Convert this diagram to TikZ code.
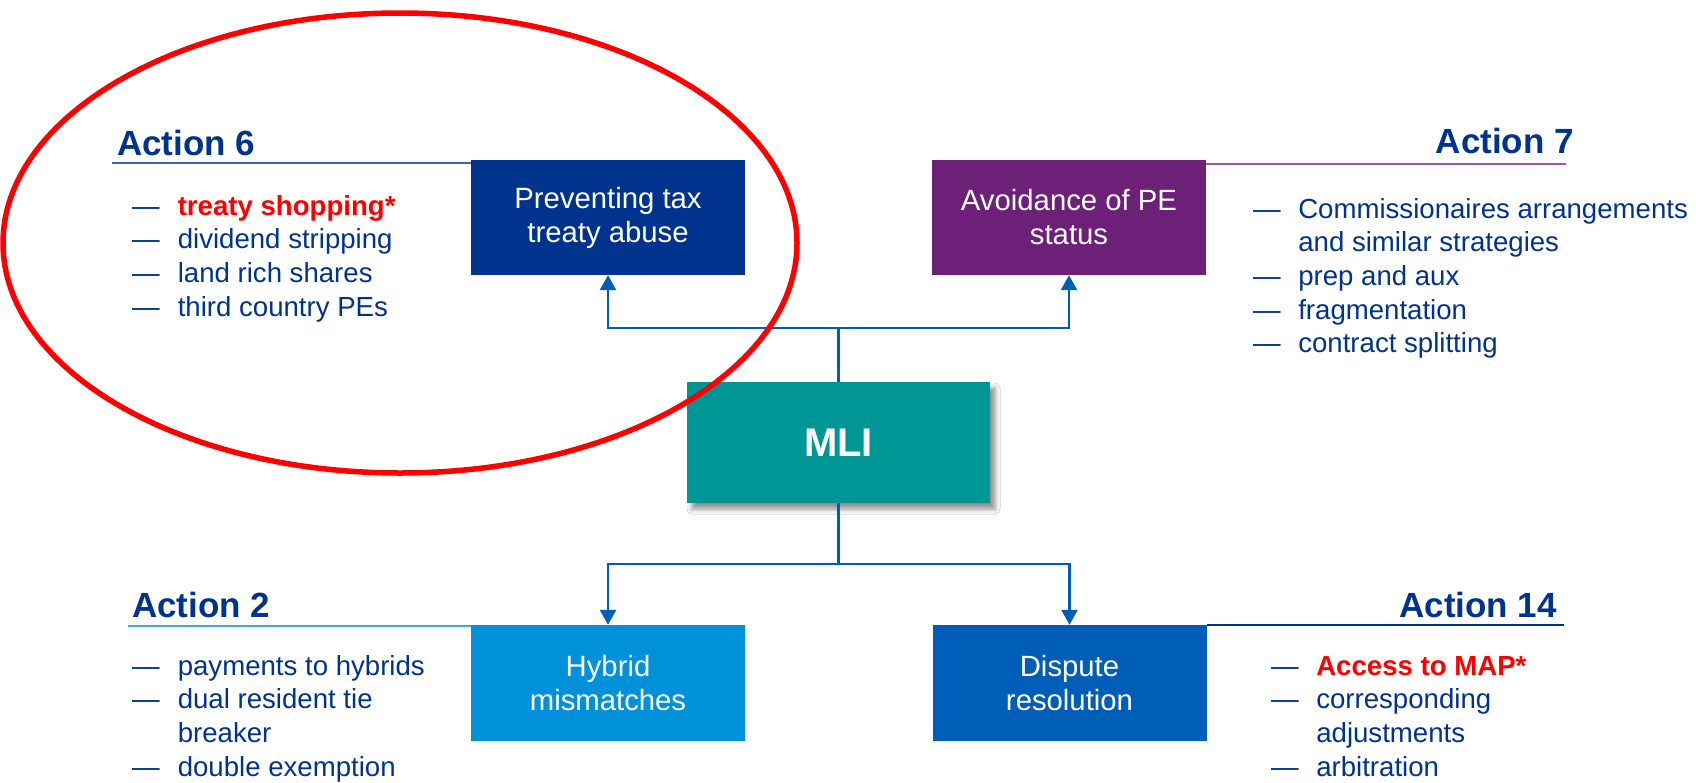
\documentclass[tikz,border=0pt]{standalone}
\usepackage{fontspec}
\setmainfont{Liberation Sans}
\usetikzlibrary{arrows.meta,shadows.blur}
\definecolor{kblue}{HTML}{00338D}
\definecolor{kpurple}{HTML}{6D2077}
\definecolor{kteal}{HTML}{009696}
\definecolor{klight}{HTML}{0091DA}
\definecolor{kmed}{HTML}{005EB8}
\definecolor{kred}{HTML}{FF0000}
\definecolor{lsix}{HTML}{3C64B1}
\definecolor{lseven}{HTML}{9A5A9E}
\definecolor{ltwo}{HTML}{45A7E0}
\begin{document}
\begin{tikzpicture}[x=1pt,y=-1pt,
  box/.style={rectangle, inner sep=0pt, minimum width=274pt, minimum height=115pt,
    text=white, align=center, font=\fontsize{29.3}{34}\selectfont},
  conn/.style={draw=kmed, line width=2.6pt},
  arr/.style={conn, -{Triangle[width=16pt,length=15pt]}},
  head/.style={text=kblue, font=\bfseries\fontsize{35}{40}\selectfont, inner sep=0pt},
  list/.style={text=kblue, font=\fontsize{27.6}{33.7}\selectfont, inner sep=0pt, anchor=base west},
  uline/.style={line width=2pt}
]
\useasboundingbox[fill=white] (0,0) rectangle (1696,782);

% boxes
\node[box, fill=kblue] (b1) at (608,217.5) {Preventing tax\\treaty abuse};
\node[box, fill=kpurple] (b2) at (1069,217.5) {Avoidance of PE\\status};
\node[box, fill=kteal, minimum width=303pt, minimum height=121pt,
  font=\bfseries\fontsize{40}{48}\selectfont,
  blur shadow={shadow xshift=5pt, shadow yshift=-6pt, shadow blur radius=5pt, shadow opacity=45}]
  (mli) at (838.5,442.5) {MLI};
\node[box, fill=klight, minimum height=116pt] (b3) at (608,683) {Hybrid\\mismatches};
\node[box, fill=kmed, minimum height=116pt] (b4) at (1069.5,683) {Dispute\\resolution};

% connectors
\coordinate (jt) at (838.5,328);
\coordinate (jb) at (838.5,564);
\draw[arr] (mli.north) -- (jt) -| (b1.south);
\draw[arr] (jt) -| (b2.south);
\draw[arr] (mli.south) -- (jb) -| (b3.north);
\draw[arr] (jb) -| (b4.north);

% headers
\node[head, anchor=base west] (h6) at (117,155) {Action 6};
\node[head, anchor=base east] (h7) at (1574,153.5) {Action 7};
\node[head, anchor=base west] (h2) at (132,617) {Action 2};
\node[head, anchor=base east] (h14) at (1557,617) {Action 14};
\draw[uline, draw=lsix] (112,163) -- (b1.north west |- 0,163);
\draw[uline, draw=lseven] (b2.north east |- 0,164) -- (1566,164);
\draw[uline, draw=ltwo] (128,626) -- (b3.north west |- 0,626);
\draw[uline, draw=kblue] (b4.north east |- 0,625) -- (1564,625);

% lists
\node[list] (l6) at (132,215) {\begin{tabular}[t]{@{}l@{\hspace{18pt}}l@{}}
—&\textcolor{kred}{\bfseries treaty shopping*}\\
—&dividend stripping\\
—&land rich shares\\
—&third country PEs
\end{tabular}};
\node[list] (l7) at (1253,218) {\begin{tabular}[t]{@{}l@{\hspace{17.5pt}}l@{}}
—&Commissionaires arrangements\\
&and similar strategies\\
—&prep and aux\\
—&fragmentation\\
—&contract splitting
\end{tabular}};
\node[list] (l2) at (132,675) {\begin{tabular}[t]{@{}l@{\hspace{18pt}}l@{}}
—&payments to hybrids\\
—&dual resident tie\\
&breaker\\
—&double exemption
\end{tabular}};
\node[list] (l14) at (1271,675) {\begin{tabular}[t]{@{}l@{\hspace{17.5pt}}l@{}}
—&\textcolor{kred}{\bfseries Access to MAP*}\\
—&corresponding\\
&adjustments\\
—&arbitration
\end{tabular}};

% highlight ellipse
\draw[draw=kred, line width=5.5pt] (400,243) ellipse [x radius=397, y radius=230];
\end{tikzpicture}
\end{document}
